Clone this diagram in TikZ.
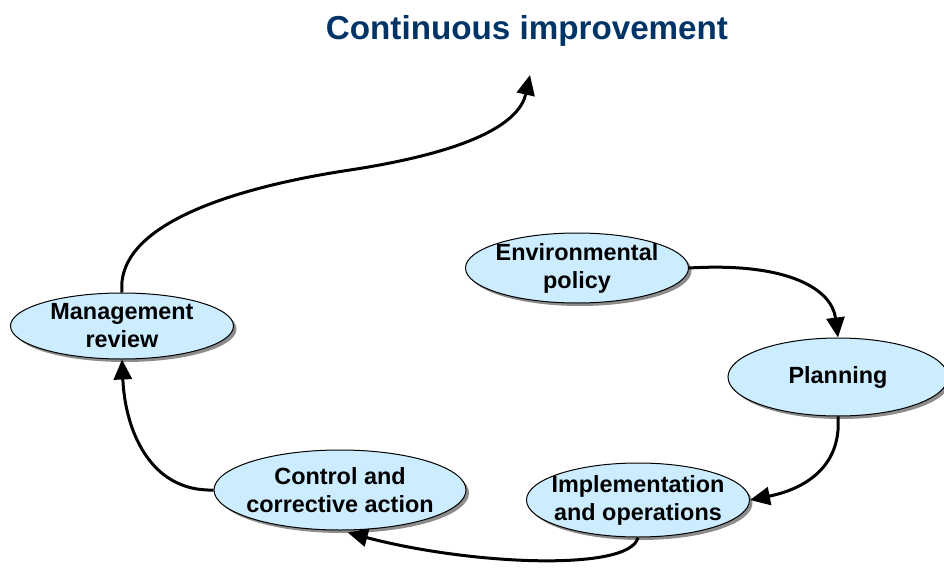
\documentclass[tikz,border=0pt]{standalone}
\usepackage{fontspec}
\setmainfont{Liberation Sans}
\usetikzlibrary{shapes.geometric,shadows,arrows.meta}
\definecolor{stepblue}{HTML}{CCECFF}
\definecolor{titleblue}{HTML}{003366}
\begin{document}
\begin{tikzpicture}[x=0.5pt, y=-0.5pt,
    stage/.style={ellipse, draw, line width=0.5pt, fill=stepblue, align=center,
      font=\fontsize{11.7}{14}\selectfont\bfseries, inner xsep=-8pt, inner ysep=-5pt,
      drop shadow={shadow xshift=1.5pt, shadow yshift=-1.5pt, fill=black!45, opacity=1}},
    flow/.style={line width=1.5pt, -{Triangle[length=10pt,width=9pt]}}]
    \useasboundingbox (0,0) rectangle (944,568);

    \node[font=\fontsize{16.6}{20}\selectfont\bfseries, text=titleblue] (title) at (527,31) {Continuous improvement};

    \node[stage, minimum width=111.5pt, minimum height=35pt] (policy) at (577,268) {Environmental\\policy};
    \node[stage, minimum width=110pt, minimum height=39pt] (plan) at (838,377) {Planning};
    \node[stage, minimum width=111.5pt, minimum height=37pt] (impl) at (638,500) {Implementation\\and operations};
    \node[stage, minimum width=126pt, minimum height=40pt] (ctrl) at (340,490) {Control and\\corrective action};
    \node[stage, minimum width=111.5pt, minimum height=33pt] (review) at (122,326) {Management\\review};
    \coordinate (next) at (530,75);

    \draw[flow] (policy.east) .. controls (790,262) and (832,290) .. (plan.north);
    \draw[flow] (plan.south) .. controls (842,470) and (800,490) .. (impl.east);
    \draw[flow, shorten >=4pt] (impl.south) .. controls (630,572) and (470,565) .. (ctrl.south);
    \draw[flow] (ctrl.west) .. controls (150,492) and (125,430) .. (review.south);
    \draw[flow] (review.north) .. controls (115,220) and (250,185) .. (350,170)
        .. controls (480,150) and (520,120) .. (next);
\end{tikzpicture}
\end{document}
